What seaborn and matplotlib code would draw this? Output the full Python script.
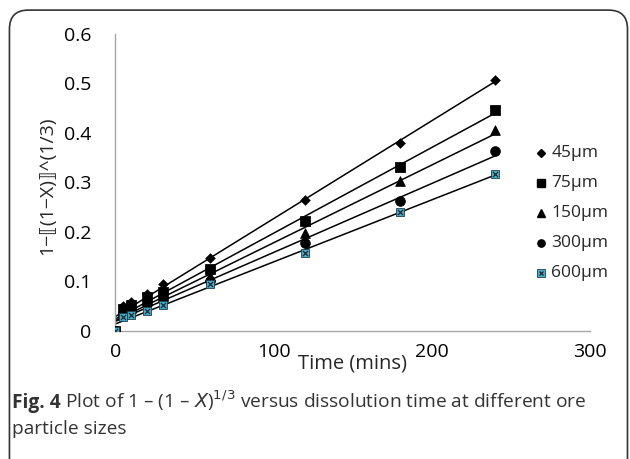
import numpy as np
import pandas as pd
import matplotlib
matplotlib.use("Agg")
import matplotlib.pyplot as plt
import seaborn as sns
from matplotlib.patches import FancyBboxPatch

# --- data ---
time_min = [0, 5, 10, 20, 30, 60, 120, 180, 240]
sizes = ["45µm", "75µm", "150µm", "300µm", "600µm"]
y_45 = [0, 0.050, 0.058, 0.075, 0.095, 0.147, 0.265, 0.380, 0.507]
y_75 = [0, 0.045, 0.052, 0.068, 0.078, 0.125, 0.223, 0.332, 0.447]
y_150 = [0, 0.040, 0.047, 0.062, 0.070, 0.110, 0.197, 0.303, 0.405]
y_300 = [0, 0.035, 0.042, 0.055, 0.065, 0.100, 0.177, 0.263, 0.363]
y_600 = [0, 0.028, 0.032, 0.040, 0.052, 0.095, 0.157, 0.240, 0.317]
x_ticks = [0, 100, 200, 300]
y_ticks = [0, 0.1, 0.2, 0.3, 0.4, 0.5, 0.6]

series = [y_45, y_75, y_150, y_300, y_600]
df = pd.DataFrame({
    "time": time_min * len(sizes),
    "value": sum(series, []),
    "size": [s for s in sizes for _ in time_min],
})

sns.set_theme(style="white")
plt.rcParams["font.family"] = ["Open Sans", "DejaVu Sans"]

fig = plt.figure(figsize=(6.3, 4.59), dpi=100)
ax = fig.add_axes([0.183, 0.279, 0.754, 0.647])

# rounded frame around the whole figure
frame = FancyBboxPatch((0.015, -0.05), 0.981, 1.028, boxstyle="round,pad=0,rounding_size=0.03",
                       transform=fig.transFigure, fill=False, edgecolor="#333333", lw=1.2,
                       mutation_aspect=630 / 459)
fig.patches.append(frame)

markers = {"45µm": "D", "75µm": "s", "150µm": "^", "300µm": "o"}
msizes = {"45µm": 5, "75µm": 7, "150µm": 7, "300µm": 7}
teal = "#4bacc6"

# linear trendlines
xs = np.array([0, 240])
for vals in series:
    k, b = np.polyfit(time_min, vals, 1)
    ax.plot(xs, k * xs + b, color="black", lw=1.1, zorder=2)

for s in sizes:
    sub = df[df["size"] == s]
    if s == "600µm":
        sns.scatterplot(data=sub, x="time", y="value", ax=ax, marker="s", s=36,
                        color=teal, edgecolor="#1f3f4f", linewidth=0.6, zorder=3, legend=False)
        sns.scatterplot(data=sub, x="time", y="value", ax=ax, marker="x", s=14,
                        color="#1a2a33", linewidth=0.9, zorder=4, legend=False)
    else:
        sns.scatterplot(data=sub, x="time", y="value", ax=ax, marker=markers[s],
                        s=msizes[s] ** 2, color="black", edgecolor="black", zorder=3, legend=False)

# legend drawn as marker + text in axes coords (markers only, like Excel)
leg_x = 0.896
leg_y0 = (331 - 153) / 297
leg_dy = 30 / 297
for i, s in enumerate(sizes):
    yy = leg_y0 - i * leg_dy
    if s == "600µm":
        ax.plot([leg_x], [yy], transform=ax.transAxes, ls="", marker="s", ms=5.5,
                mfc=teal, mec="#1f3f4f", mew=0.6, clip_on=False)
        ax.plot([leg_x], [yy], transform=ax.transAxes, ls="", marker="x", ms=3.5,
                color="#1a2a33", mew=0.9, clip_on=False)
    else:
        ax.plot([leg_x], [yy], transform=ax.transAxes, ls="", marker=markers[s],
                ms=msizes[s] * 0.75, color="black", clip_on=False)
    ax.text(leg_x + 0.022, yy, s, transform=ax.transAxes, fontsize=12.5,
            va="center", ha="left")

ax.set_xlim(0, 300)
ax.set_ylim(0, 0.6)
ax.set_xticks(x_ticks)
ax.set_yticks(y_ticks)
ax.set_yticklabels(["0", "0.1", "0.2", "0.3", "0.4", "0.5", "0.6"])
sns.despine(ax=ax)
for sp in ["left", "bottom"]:
    ax.spines[sp].set_color("#a6a6a6")
    ax.spines[sp].set_linewidth(1.0)
ax.tick_params(axis="both", direction="out", length=6, color="#a6a6a6", width=1.0,
               labelsize=14, labelcolor="black")
ax.tick_params(axis="y", pad=11)
ax.tick_params(axis="x", pad=3)

ax.set_xlabel("Time (mins)", fontsize=14.5, labelpad=-6)
ax.set_ylabel("1−⟦(1−X)⟧^(1/3)", fontsize=14)
ax.yaxis.set_label_coords(-0.125, 0.49)

# caption
fig.canvas.draw()
r = fig.canvas.get_renderer()
cap_size = 13.8
t1 = fig.text(0.019, 0.112, "Fig. 4", fontsize=cap_size, fontweight="bold", color="#333333")
bb = t1.get_window_extent(renderer=r)
x2 = (bb.x1 + 4) / fig.bbox.width
fig.text(x2, 0.112, r"Plot of 1 – (1 – $\it{X}$)$^{1/3}$ versus dissolution time at different ore",
         fontsize=cap_size, color="#333333")
fig.text(0.019, 0.055, "particle sizes", fontsize=cap_size, color="#333333")

fig.savefig("out.png", dpi=100)
